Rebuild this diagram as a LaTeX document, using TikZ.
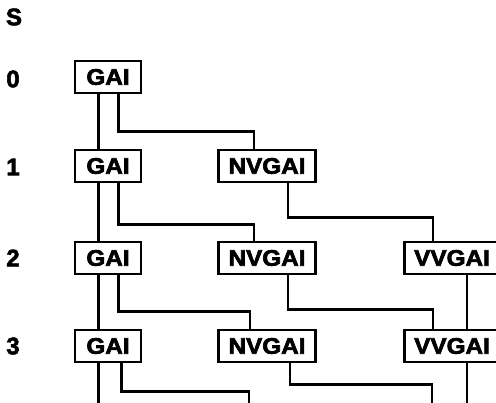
\documentclass[tikz,border=0pt]{standalone}
\usepackage{fontspec}
\setmainfont{Liberation Sans}
\newfontfamily\statefont{Liberation Sans}[UprightFont={* Bold}, FakeStretch=1.08, FakeBold=3]
\newfontfamily\stagefont{Liberation Sans}[UprightFont={* Bold}, FakeBold=2.5]

\begin{document}
\begin{tikzpicture}[x=0.025cm, y=-0.025cm,
    state/.style={draw, line width=2.1pt, inner sep=0pt, minimum height=0.8cm,
        font=\statefont\fontsize{16}{16}\selectfont},
    gai/.style={state, minimum width=1.65cm},
    nv/.style={state, minimum width=2.43cm},
    vv/.style={state, minimum width=2.38cm},
    link/.style={line width=1.8pt},
    stage/.style={font=\stagefont\fontsize{17}{17}\selectfont}]
    \clip (0,0) rectangle (496,403);
    \coordinate (bottom) at (0,410);

    % Stage labels
    \node[stage] (s) at (14,17) {S};
    \node[stage] (s0) at (13,79) {0};
    \node[stage] (s1) at (13,167) {1};
    \node[stage] (s2) at (13,258) {2};
    \node[stage] (s3) at (13,346) {3};

    % States
    \node[gai] (g0) at (108,77) {GAI};
    \node[gai] (g1) at (108,166) {GAI};
    \node[gai] (g2) at (108,258) {GAI};
    \node[gai] (g3) at (108,346) {GAI};
    \node[nv] (n1) at (267,166) {NVGAI};
    \node[nv] (n2) at (267,258) {NVGAI};
    \node[nv] (n3) at (267,346) {NVGAI};
    \node[vv] (v2) at (452,258) {VVGAI};
    \node[vv] (v3) at (452,346) {VVGAI};

    % GAI -> GAI
    \draw[link] ([xshift=-2.4mm]g0.south) -- ([xshift=-2.4mm]g1.north);
    \draw[link] ([xshift=-2.4mm]g1.south) -- ([xshift=-2.4mm]g2.north);
    \draw[link] ([xshift=-2.4mm]g2.south) -- ([xshift=-2.4mm]g3.north);
    \draw[link] ([xshift=-2.4mm]g3.south) -- ([xshift=-2.4mm]g3.south |- bottom);

    % GAI -> NVGAI
    \draw[link] ([xshift=2.6mm]g0.south) -- ++(0,37) -| ([xshift=-3.3mm]n1.north);
    \draw[link] ([xshift=2.6mm]g1.south) -- ++(0,41) -| ([xshift=-3.3mm]n2.north);
    \draw[link] ([xshift=2.6mm]g2.south) -- ++(0,36) -| ([xshift=-4.3mm]n3.north);
    \draw[link] ([xshift=3.4mm]g3.south) -- ++(0,28) -| ([xshift=-4.5mm]n3.south |- bottom);

    % NVGAI -> VVGAI
    \draw[link] ([xshift=5.2mm]n1.south) -- ++(0,34) -| ([xshift=-4.7mm]v2.north);
    \draw[link] ([xshift=5.2mm]n2.south) -- ++(0,34) -| ([xshift=-4.8mm]v3.north);
    \draw[link] ([xshift=5.8mm]n3.south) -- ++(0,21) -| ([xshift=-5mm]v3.south |- bottom);

    % VVGAI -> VVGAI
    \draw[link] ([xshift=3.8mm]v2.south) -- ([xshift=3.8mm]v3.north);
    \draw[link] ([xshift=3.8mm]v3.south) -- ([xshift=3.8mm]v3.south |- bottom);
\end{tikzpicture}
\end{document}
